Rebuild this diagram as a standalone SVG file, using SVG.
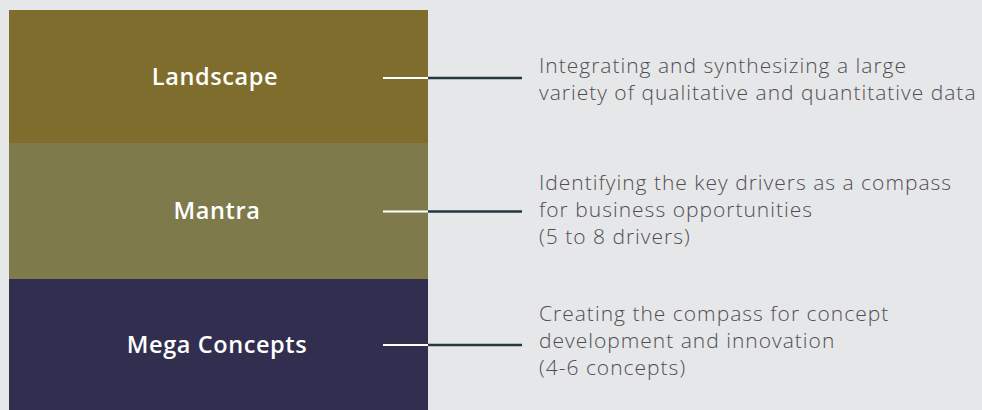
<svg xmlns="http://www.w3.org/2000/svg" width="982" height="410" viewBox="0 0 982 410">
<style>
.lbl{font-family:"Open Sans","Liberation Sans",sans-serif;font-weight:600;font-size:23.5px;letter-spacing:0.6px;fill:#ffffff;text-anchor:middle}
.desc{font-family:"Open Sans","Liberation Sans",sans-serif;font-weight:300;font-size:21px;letter-spacing:1px;fill:#4f4f52}
.wl{stroke:#ffffff;stroke-width:2.2}
.dl{stroke:#24383e;stroke-width:2.6}
</style>
<rect x="0" y="0" width="982" height="410" fill="#e6e7e9"/>
<g id="landscape">
<rect x="9" y="10" width="419" height="133" fill="#7f6d2d"/>
<text class="lbl" x="215" y="85">Landscape</text>
</g>
<g id="mantra">
<rect x="9" y="143" width="419" height="136" fill="#7e7a4b"/>
<text class="lbl" x="217" y="219">Mantra</text>
</g>
<g id="mega-concepts">
<rect x="9" y="279" width="419" height="131" fill="#322e50"/>
<text class="lbl" x="217" y="353">Mega Concepts</text>
</g>
<g id="connectors">
<line class="wl" x1="383" y1="78" x2="428" y2="78"/>
<line class="dl" x1="428" y1="78" x2="522" y2="78"/>
<line class="wl" x1="383" y1="211.5" x2="428" y2="211.5"/>
<line class="dl" x1="428" y1="211.5" x2="522" y2="211.5"/>
<line class="wl" x1="383" y1="345" x2="428" y2="345"/>
<line class="dl" x1="428" y1="345" x2="522" y2="345"/>
</g>
<g id="desc-landscape">
<text class="desc" x="539" y="73">Integrating and synthesizing a large</text>
<text class="desc" x="539" y="100">variety of qualitative and quantitative data</text>
</g>
<g id="desc-mantra">
<text class="desc" x="539" y="190">Identifying the key drivers as a compass</text>
<text class="desc" x="539" y="217">for business opportunities</text>
<text class="desc" x="539" y="244">(5 to 8 drivers)</text>
</g>
<g id="desc-mega">
<text class="desc" x="539" y="321">Creating the compass for concept</text>
<text class="desc" x="539" y="348">development and innovation</text>
<text class="desc" x="539" y="375">(4-6 concepts)</text>
</g>
</svg>
